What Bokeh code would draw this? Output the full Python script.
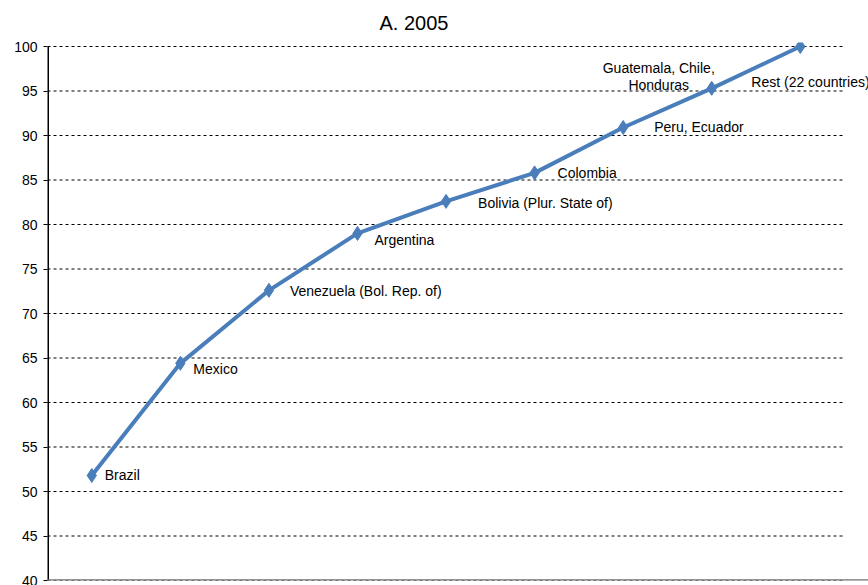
from bokeh.plotting import figure
from bokeh.models import Label, Span, Range1d
from bokeh.embed import file_html
from bokeh.resources import INLINE

# Data
countries = ["Brazil", "Mexico", "Venezuela (Bol. Rep. of)", "Argentina",
             "Bolivia (Plur. State of)", "Colombia", "Peru, Ecuador",
             "Guatemala, Chile,\nHonduras", "Rest (22 countries)"]
cumulative = [51.8, 64.4, 72.6, 79.0, 82.6, 85.8, 90.9, 95.3, 100.0]
y_ticks = [40, 45, 50, 55, 60, 65, 70, 75, 80, 85, 90, 95, 100]
positions = list(range(1, len(countries) + 1))

FONT = "Liberation Sans"
BLUE = "#4a7ebb"

x_lo = 0.5
x_hi = len(countries) + 0.5
y_lo = y_ticks[0]
y_hi = y_ticks[-1]

p = figure(width=868, height=585, output_backend="svg", toolbar_location=None,
           x_range=Range1d(x_lo, 9.77), y_range=Range1d(y_lo, 100.45),
           min_border_left=47, min_border_right=0, min_border_top=42,
           min_border_bottom=5)
p.outline_line_color = None
p.background_fill_color = "white"
p.border_fill_color = "white"

p.title.text = "A. 2005"
p.title.text_font = FONT
p.title.text_font_size = "20px"
p.title.text_font_style = "normal"
p.title.text_color = "black"
p.title.align = "left"
p.title.offset = 332
p.title.standoff = 18

p.xaxis.visible = False
p.xgrid.visible = False
p.ygrid.visible = False

p.yaxis.ticker = y_ticks
p.yaxis.axis_line_color = None
p.yaxis.major_tick_in = 0
p.yaxis.major_tick_out = 4
p.yaxis.minor_tick_line_color = None
p.yaxis.major_tick_line_color = "black"
p.yaxis.major_label_text_font = FONT
p.yaxis.major_label_text_font_size = "14px"
p.yaxis.major_label_text_color = "black"
p.yaxis.major_label_standoff = 6

# dashed horizontal grid across the category span only
p.segment(x0=[x_lo] * len(y_ticks), x1=[x_hi] * len(y_ticks), y0=y_ticks, y1=y_ticks,
          line_color="black", line_dash="3 3", line_width=1)

# vertical axis line from lowest to highest tick
p.segment(x0=[x_lo], x1=[x_lo], y0=[y_lo], y1=[y_hi], line_color="black", line_width=3)

p.add_layout(Span(location=y_lo, dimension="width", line_color="#707070", line_width=2.5))

p.line(positions, cumulative, line_color=BLUE, line_width=4)
p.scatter(positions, cumulative, marker="diamond", size=14, fill_color=BLUE, line_color=BLUE)

# label offsets (px): (dx, dy), align
offsets = [(13, 0, "left"), (13, -6, "left"), (21, -1, "left"), (17, -7, "left"),
           (32, -2, "left"), (23, 0, "left"), (31, 0, "left"), (-53, 12, "center"),
           (-49, -35, "left")]

for xi, yi, name, (dx, dy, al) in zip(positions, cumulative, countries, offsets):
    lines = name.split("\n")
    n = len(lines)
    for k, ln in enumerate(lines):
        p.add_layout(Label(x=xi, y=yi, x_offset=dx, y_offset=dy + (n - 1) * 8.5 - k * 17,
                           text=ln, text_font=FONT, text_font_size="14px",
                           text_align=al, text_baseline="middle", text_color="black"))

open("out.html", "w").write(file_html(p, INLINE))
